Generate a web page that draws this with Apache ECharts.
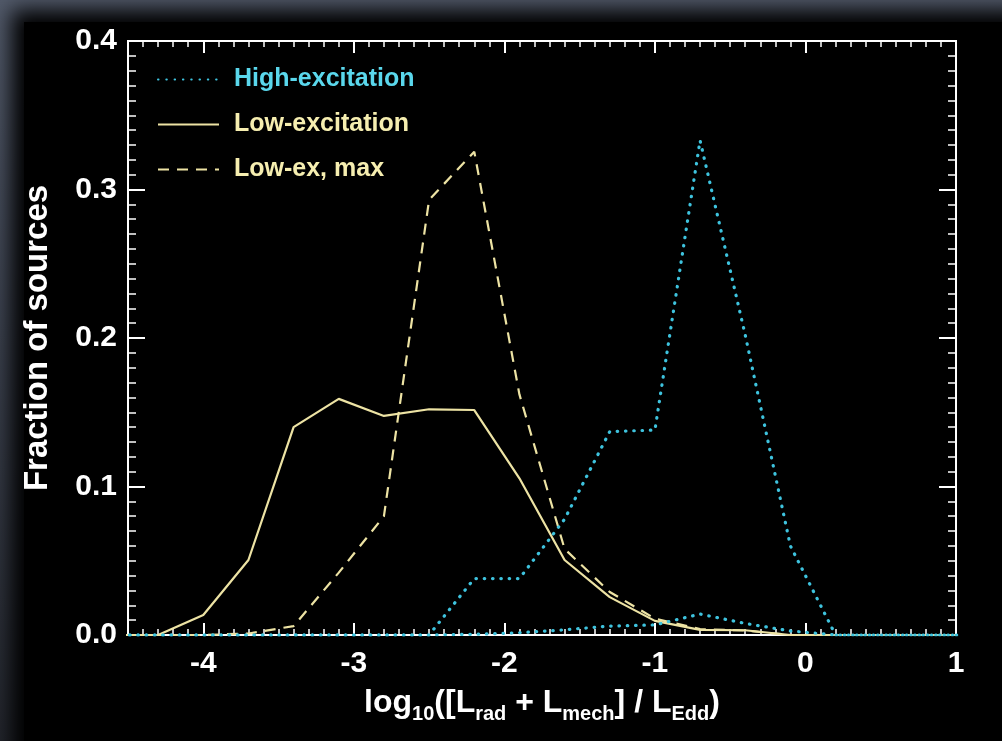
<!DOCTYPE html>
<html>
<head>
<meta charset="utf-8">
<script src="https://cdn.jsdelivr.net/npm/echarts@6/dist/echarts.min.js"></script>
<style>
  html, body { margin: 0; padding: 0; }
  body {
    width: 1002px; height: 741px; overflow: hidden; position: relative;
    background: linear-gradient(180deg, #525a6a 0%, #3c424f 45%, #23262d 100%);
  }
  #slide {
    position: absolute; left: 24px; top: 22px; width: 1030px; height: 760px;
    background: #000; box-shadow: 0 0 20px 12px #000;
  }
  #main { position: absolute; left: 0; top: 0; width: 1002px; height: 741px; }
</style>
</head>
<body>
<div id="slide"></div>
<div id="main"></div>
<script>
// bin centres (log10 of Eddington ratio)
const binCenters = [-4.6, -4.3, -4.0, -3.7, -3.4, -3.1, -2.8, -2.5, -2.2, -1.9,
  -1.6, -1.3, -1.0, -0.7, -0.4, -0.1, 0.2, 0.5, 0.8, 1.1];
// fraction of sources per bin
const highEx = [0, 0, 0, 0, 0, 0, 0, 0, 0.038, 0.038,
  0.078, 0.137, 0.138, 0.333, 0.202, 0.06, 0, 0, 0, 0];
const highExSmall = [0, 0, 0, 0, 0, 0, 0, 0, 0.0005, 0.0015,
  0.0035, 0.006, 0.0068, 0.0141, 0.0078, 0.0027, 0, 0, 0, 0];
const lowEx = [0, 0, 0.0135, 0.0505, 0.140, 0.159, 0.1475, 0.152, 0.1515, 0.1055,
  0.0505, 0.0255, 0.0095, 0.0034, 0.0032, 0, 0, 0, 0, 0];
const lowExMax = [0, 0, 0, 0.001, 0.006, 0.042, 0.080, 0.293, 0.3255, 0.162,
  0.058, 0.029, 0.011, 0.004, 0.003, 0, 0, 0, 0, 0];
const xTicks = [-4, -3, -2, -1, 0, 1];

const cyan = '#3ec3de';
const yellow = '#ede3a4';
const font = "'Liberation Sans', Arial, sans-serif";

const pairs = (vals) => binCenters.map((x, i) => [x, vals[i]]);

const myChart = echarts.init(document.getElementById('main'));

const gridBox = { left: 128, right: 46, top: 41, bottom: 106 };

const majorX = (pos) => ({
  type: 'value', gridIndex: 0, position: pos, min: -4.5, max: 1,
  axisLine: { show: false, onZero: false },
  splitLine: { show: false },
  axisTick: { inside: true, length: 12, customValues: xTicks, lineStyle: { color: '#fff', width: 2 } },
  axisLabel: {
    show: pos === 'bottom', customValues: xTicks, color: '#fff', fontSize: 30,
    fontWeight: 'bold', fontFamily: font, margin: 14,
  },
});
const minorX = (pos) => ({
  type: 'value', gridIndex: 1, position: pos, min: -4.5, max: 1, interval: 0.1,
  axisLine: { show: false, onZero: false },
  splitLine: { show: false },
  axisTick: { inside: true, length: 6, lineStyle: { color: '#fff', width: 1.5 } },
  axisLabel: { show: false },
});
const yAx = (pos) => ({
  type: 'value', gridIndex: 0, position: pos, min: 0, max: 0.4, interval: 0.1,
  axisLine: { show: false, onZero: false },
  splitLine: { show: false },
  axisTick: { inside: true, length: 17, lineStyle: { color: '#fff', width: 2 } },
  minorTick: { show: true, splitNumber: 10, length: 8, lineStyle: { color: '#fff', width: 1.5 } },
  axisLabel: {
    show: pos === 'left', color: '#fff', fontSize: 30, fontWeight: 'bold', fontFamily: font,
    margin: 11, formatter: (v) => v.toFixed(1),
  },
});

const xName = majorX('bottom');
xName.name = '{m|log}{s|10}{m|([L}{s|rad}{m| + L}{s|mech}{m|] / L}{s|Edd}{m|)}';
xName.nameLocation = 'middle';
xName.nameGap = 47;
xName.nameTextStyle = {
  rich: {
    m: { fontSize: 32, fontWeight: 'bold', fontFamily: font, color: '#fff', lineHeight: 32, verticalAlign: 'middle' },
    s: { fontSize: 20, fontWeight: 'bold', fontFamily: font, color: '#fff', lineHeight: 42, verticalAlign: 'bottom' },
  },
};
const yName = yAx('left');
yName.name = 'Fraction of sources';
yName.nameLocation = 'middle';
yName.nameGap = 74;
yName.nameTextStyle = { fontSize: 33, fontWeight: 'bold', fontFamily: font, color: '#fff' };

myChart.setOption({
  backgroundColor: 'transparent',
  animation: false,
  grid: [
    Object.assign({ show: true, borderColor: '#fff', borderWidth: 2, backgroundColor: 'transparent' }, gridBox),
    Object.assign({ show: false }, gridBox),
  ],
  legend: {
    orient: 'vertical', left: 157, top: 67, padding: 0, itemWidth: 61, itemHeight: 20, itemGap: 20,
    selectedMode: false,
    itemStyle: { opacity: 0 },
    textStyle: { fontSize: 25, fontWeight: 'bold', fontFamily: font, lineHeight: 25, padding: [0, 0, 0, 10] },
    data: [
      { name: 'High-excitation', textStyle: { color: '#5ad7ec' } },
      { name: 'Low-excitation', textStyle: { color: '#f6eeb0' } },
      { name: 'Low-ex, max', textStyle: { color: '#f6eeb0' } },
    ],
  },
  xAxis: [xName, majorX('top'), minorX('bottom'), minorX('top')],
  yAxis: [yName, yAx('right'), { type: 'value', gridIndex: 1, show: false, min: 0, max: 1 }],
  series: [
    {
      name: 'Low-excitation', type: 'line', data: pairs(lowEx), showSymbol: false, symbol: 'none',
      lineStyle: { color: yellow, width: 2.2 }, itemStyle: { color: yellow },
    },
    {
      name: 'Low-ex, max', type: 'line', data: pairs(lowExMax), showSymbol: false, symbol: 'none',
      lineStyle: { color: yellow, width: 2.2, type: [11, 8] }, itemStyle: { color: yellow },
    },
    {
      name: 'High-excitation', type: 'line', data: pairs(highEx), showSymbol: false, symbol: 'none',
      lineStyle: { color: cyan, width: 3.2, type: [0.5, 7.8], cap: 'round' }, itemStyle: { color: cyan },
    },
    {
      name: 'High-excitation (small)', type: 'line', data: pairs(highExSmall), showSymbol: false, symbol: 'none',
      lineStyle: { color: cyan, width: 3.2, type: [0.5, 7.8], cap: 'round' }, itemStyle: { color: cyan },
    },
  ],
});
</script>
</body>
</html>
